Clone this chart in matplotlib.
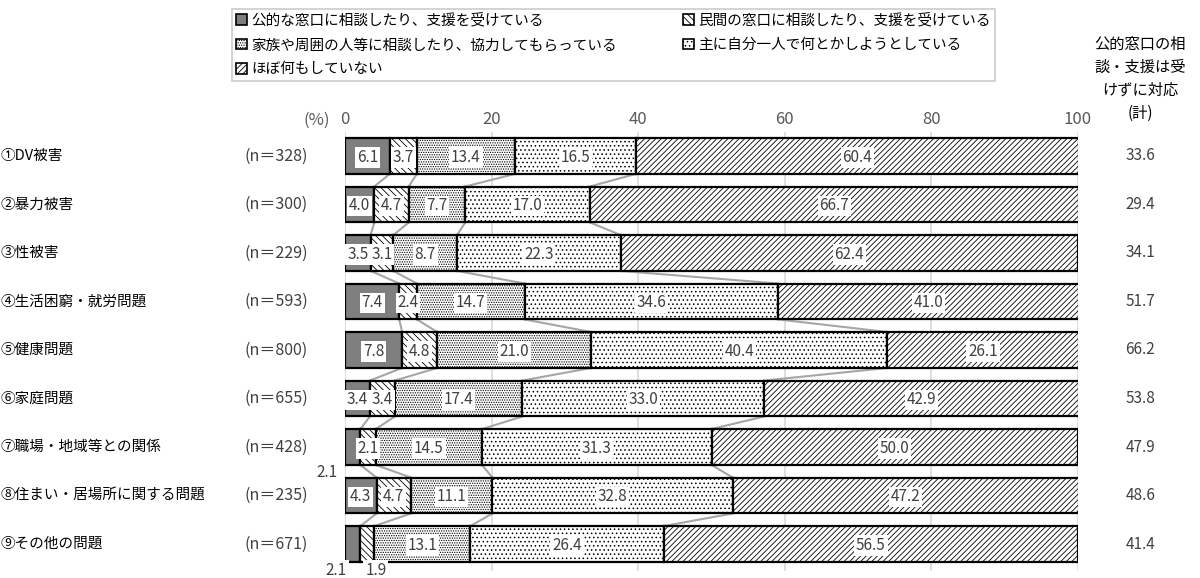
import numpy as np
import matplotlib.pyplot as plt
from matplotlib.patches import Patch

plt.rcParams['font.family'] = ['Noto Sans CJK JP', 'DejaVu Sans']
plt.rcParams['hatch.linewidth'] = 0.6

categories = ['①DV被害', '②暴力被害', '③性被害', '④生活困窮・就労問題', '⑤健康問題',
              '⑥家庭問題', '⑦職場・地域等との関係', '⑧住まい・居場所に関する問題', '⑨その他の問題']
n_labels = ['(n＝328)', '(n＝300)', '(n＝229)', '(n＝593)', '(n＝800)',
            '(n＝655)', '(n＝428)', '(n＝235)', '(n＝671)']
public = [6.1, 4.0, 3.5, 7.4, 7.8, 3.4, 2.1, 4.3, 2.1]
private = [3.7, 4.7, 3.1, 2.4, 4.8, 3.4, 2.1, 4.7, 1.9]
family = [13.4, 7.7, 8.7, 14.7, 21.0, 17.4, 14.5, 11.1, 13.1]
alone = [16.5, 17.0, 22.3, 34.6, 40.4, 33.0, 31.3, 32.8, 26.4]
nothing = [60.4, 66.7, 62.4, 41.0, 26.1, 42.9, 50.0, 47.2, 56.5]
no_public_total = [33.6, 29.4, 34.1, 51.7, 66.2, 53.8, 47.9, 48.6, 41.4]

series = [public, private, family, alone, nothing]
names = ['公的な窓口に相談したり、支援を受けている', '民間の窓口に相談したり、支援を受けている',
         '家族や周囲の人等に相談したり、協力してもらっている', '主に自分一人で何とかしようとしている',
         'ほぼ何もしていない']
colors = ['#7f7f7f', 'white', 'white', 'white', 'white']
hatches = [None, '\\\\\\\\\\', '.......', '....', '//////']

fig = plt.figure(figsize=(12, 5.78), dpi=100)
ax = fig.add_axes([345 / 1200, 1 - 570.7 / 578, (1078 - 345) / 1200, (570.7 - 131.7) / 578])

y = np.arange(len(categories))
h = 0.74
left = np.zeros(len(categories))
bounds = []
for vals, c, ht in zip(series, colors, hatches):
    vals = np.array(vals)
    ax.barh(y, vals, left=left, height=h, color=c, hatch=ht,
            edgecolor='black', linewidth=1.6, zorder=3)
    left = left + vals
    bounds.append(left.copy())

# connector lines between the bar boundaries of neighbouring rows
for k in range(4):
    b = bounds[k]
    for i in range(len(categories) - 1):
        ax.plot([b[i], b[i + 1]], [i + h / 2, i + 1 - h / 2], color='#a6a6a6',
                lw=1.5, zorder=2)

# value labels
label_style = dict(ha='center', va='center', fontsize=11, color='#404040', zorder=5,
                   bbox=dict(boxstyle='square,pad=0.12', fc='white', ec='none'))
for i in range(len(categories)):
    start = 0
    for j, vals in enumerate(series):
        v = vals[i]
        cx = start + v / 2
        start += v
        if i == 6 and j == 0:
            ax.text(-2.5, i + 0.52, f'{v:.1f}', **label_style)
            continue
        if i == 8 and j == 0:
            ax.text(-1.2, i + 0.54, f'{v:.1f}', **label_style)
            continue
        if i == 8 and j == 1:
            ax.text(4.2, i + 0.54, f'{v:.1f}', **label_style)
            continue
        ax.text(cx, y[i] + 0.03, f'{v:.1f}', **label_style)

ax.set_xlim(0, 100)
ax.set_ylim(8.55, -0.5)
ax.xaxis.tick_top()
ax.set_xticks([0, 20, 40, 60, 80, 100])
ax.tick_params(axis='x', length=0, labelsize=12, labelcolor='#595959', pad=3)
ax.set_yticks([])
ax.grid(axis='x', color='#d9d9d9', lw=1.2, zorder=0)
for s in ax.spines.values():
    s.set_visible(False)
ax.text(-2.0, -0.56, '(%)', ha='right', va='bottom', fontsize=12, color='#595959')

# row labels on the left and totals on the right
for i in range(len(categories)):
    ax.text(-47, i, categories[i], ha='left', va='center', fontsize=10.5, color='black')
    ax.text(-13.7, i, n_labels[i], ha='left', va='center', fontsize=11.5, color='#404040')
    ax.text(108.5, i, f'{no_public_total[i]:.1f}', ha='center', va='center',
            fontsize=11, color='#404040')
fig.text(1140 / 1200, 1 - 79 / 578, '公的窓口の相\n談・支援は受\nけずに対応\n(計)',
         ha='center', va='center', fontsize=11, linespacing=1.45, color='black')

order = [0, 2, 4, 1, 3]
handles = [Patch(facecolor=colors[k], hatch=hatches[k], edgecolor='black', lw=1.2)
           for k in order]
leg = fig.legend(handles, [names[k] for k in order], ncol=2, loc='upper left',
                 bbox_to_anchor=(232 / 1200, 1 - 9 / 578), frameon=True, fancybox=False,
                 edgecolor='#bfbfbf', fontsize=10.5, handlelength=0.75, handleheight=0.75,
                 handletextpad=0.3, columnspacing=4.5, labelspacing=0.7,
                 borderpad=0.3, borderaxespad=0)
leg.get_frame().set_linewidth(1.2)

fig.savefig('out.png', dpi=100)
